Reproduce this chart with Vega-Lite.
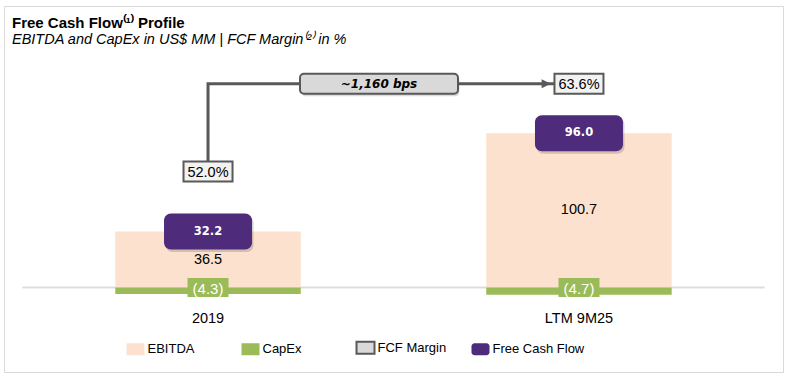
{
  "$schema": "https://vega.github.io/schema/vega-lite/v6.json",
  "width": 779,
  "height": 366,
  "autosize": "none",
  "padding": {"left": 4, "top": 6, "right": 8, "bottom": 5},
  "background": "#ffffff",
  "title": {
    "text": "Free Cash Flow⁽¹⁾ Profile",
    "subtitle": "EBITDA and CapEx in US$ MM | FCF Margin⁽²⁾ in %",
    "anchor": "start",
    "frame": "group",
    "offset": -40,
    "dx": 8,
    "font": "Liberation Sans",
    "fontSize": 15,
    "fontWeight": "bold",
    "color": "#000000",
    "subtitleFont": "Liberation Sans",
    "subtitleFontSize": 14.5,
    "subtitleFontStyle": "italic",
    "subtitleColor": "#000000",
    "subtitlePadding": 1.5
  },
  "datasets": {
    "periods": [
      {"period": "2019", "ebitda": 36.5, "capex": -4.3, "fcf": 32.2, "margin": 0.52},
      {"period": "LTM 9M25", "ebitda": 100.7, "capex": -4.7, "fcf": 96.0, "margin": 0.636}
    ],
    "connector": [
      {"period": "2019", "margin": 0.52, "step": 1},
      {"period": "2019", "margin": 0.636, "step": 2},
      {"period": "LTM 9M25", "margin": 0.636, "step": 3}
    ],
    "change": [
      {"period": "2019", "label": "~1,160 bps", "margin": 0.636}
    ]
  },
  "data": {"name": "periods"},
  "resolve": {"scale": {"y": "independent"}},
  "layer": [
    {
      "mark": {"type": "rule", "color": "#DCDCDC", "strokeWidth": 1.5},
      "encoding": {
        "x": {"datum": "2019", "type": "nominal", "bandPosition": -0.5, "axis": null, "scale": {"paddingInner": 0.5, "paddingOuter": 0.3}},
        "x2": {"datum": "LTM 9M25", "bandPosition": 1.5},
        "y": {"datum": 0, "type": "quantitative", "axis": null, "scale": {"domain": [-55.19, 183.87], "nice": false, "zero": false}}
      }
    },
    {
      "mark": {"type": "bar"},
      "encoding": {
        "x": {"field": "period", "type": "nominal", "sort": null, "axis": null, "scale": {"paddingInner": 0.5, "paddingOuter": 0.3}},
        "y": {"field": "ebitda", "type": "quantitative", "axis": null, "scale": {"domain": [-55.19, 183.87], "nice": false, "zero": false}},
        "color": {"datum": "EBITDA", "type": "nominal",
          "scale": {"domain": ["EBITDA", "CapEx", "FCF Margin", "Free Cash Flow"], "range": ["#FCE2CE", "#9BBB59", "#D9D9D9", "#4F2B7B"]},
          "legend": {
            "orient": "none", "legendX": 125, "legendY": 335, "direction": "horizontal", "columns": 4, "gridAlign": "all",
            "title": null, "padding": 0,
            "symbolType": "M-9,-6H9V6H-9Z", "symbolSize": 4, "symbolOpacity": 1, "symbolStrokeWidth": 0,
            "labelFont": "Liberation Sans", "labelFontSize": 13, "labelColor": "#000000", "labelOffset": 5.5, "columnPadding": -3,
            "encode": {"symbols": {"update": {
              "shape": {"signal": "datum.label === 'Free Cash Flow' ? 'M-6,-6H6A3,3 0 0 1 9,-3V3A3,3 0 0 1 6,6H-6A3,3 0 0 1 -9,3V-3A3,3 0 0 1 -6,-6Z' : 'M-9,-6H9V6H-9Z'"},
              "stroke": {"signal": "datum.label === 'FCF Margin' ? '#595959' : null"},
              "strokeWidth": {"signal": "datum.label === 'FCF Margin' ? 2 : 0"}
            }}}
          }
        }
      }
    },
    {
      "mark": {"type": "bar", "color": "#9BBB59"},
      "encoding": {
        "x": {"field": "period", "type": "nominal", "sort": null, "axis": null},
        "y": {"field": "capex", "type": "quantitative", "axis": null, "scale": {"domain": [-55.19, 183.87], "nice": false, "zero": false}}
      }
    },
    {
      "mark": {"type": "text", "font": "Liberation Sans", "fontSize": 14.5, "color": "#000000", "baseline": "alphabetic", "dy": 35},
      "encoding": {
        "x": {"field": "period", "type": "nominal", "sort": null, "axis": null},
        "y": {"datum": 0, "type": "quantitative", "axis": null, "scale": {"domain": [-55.19, 183.87], "nice": false, "zero": false}},
        "text": {"field": "period", "type": "nominal"}
      }
    },
    {
      "mark": {"type": "text", "font": "Liberation Sans", "fontSize": 14.5, "color": "#000000", "baseline": "middle"},
      "encoding": {
        "x": {"field": "period", "type": "nominal", "sort": null, "axis": null},
        "y": {"field": "ebitda", "type": "quantitative", "axis": null, "scale": {"domain": [-110.38, 367.74], "nice": false, "zero": false}},
        "text": {"field": "ebitda", "type": "quantitative", "format": ".1f"}
      }
    },
    {
      "mark": {"type": "point", "shape": "M-20.5,-9.5H20.5V9.5H-20.5Z", "size": 4, "filled": true, "opacity": 1, "color": "#9BBB59"},
      "encoding": {
        "x": {"field": "period", "type": "nominal", "sort": null, "axis": null},
        "y": {"datum": 0, "type": "quantitative", "axis": null, "scale": {"domain": [-55.19, 183.87], "nice": false, "zero": false}}
      }
    },
    {
      "mark": {"type": "text", "font": "Liberation Sans", "fontSize": 15, "color": "#ffffff", "baseline": "middle", "dy": 1},
      "encoding": {
        "x": {"field": "period", "type": "nominal", "sort": null, "axis": null},
        "y": {"datum": 0, "type": "quantitative", "axis": null, "scale": {"domain": [-55.19, 183.87], "nice": false, "zero": false}},
        "text": {"field": "capex", "type": "quantitative", "format": "(.1f"}
      }
    },
    {
      "data": {"name": "connector"},
      "mark": {"type": "line", "color": "#595959", "strokeWidth": 3, "strokeJoin": "miter", "strokeCap": "butt"},
      "encoding": {
        "x": {"field": "period", "type": "nominal", "sort": null, "axis": null},
        "y": {"field": "margin", "type": "quantitative", "axis": null, "scale": {"domain": [0.2551, 0.73866], "nice": false, "zero": false}},
        "order": {"field": "step", "type": "quantitative"}
      }
    },
    {
      "transform": [{"filter": "datum.period === 'LTM 9M25'"}],
      "mark": {"type": "point", "shape": "M-4.5,-4.5L4.5,0L-4.5,4.5Z", "size": 4, "filled": true, "opacity": 1, "color": "#595959"},
      "encoding": {
        "x": {"field": "period", "type": "nominal", "sort": null, "bandPosition": 0.323, "axis": null},
        "y": {"field": "margin", "type": "quantitative", "axis": null, "scale": {"domain": [0.2551, 0.73866], "nice": false, "zero": false}}
      }
    },
    {
      "mark": {"type": "point", "shape": "M-24.5,-10H24.5V10H-24.5Z", "size": 4, "filled": true, "opacity": 1, "fill": "#F2F2F2", "stroke": "#595959", "strokeWidth": 2},
      "encoding": {
        "x": {"field": "period", "type": "nominal", "sort": null, "axis": null},
        "y": {"field": "margin", "type": "quantitative", "axis": null, "scale": {"domain": [0.2551, 0.73866], "nice": false, "zero": false}}
      }
    },
    {
      "mark": {"type": "text", "font": "Liberation Sans", "fontSize": 14.5, "color": "#000000", "baseline": "middle", "dy": 1},
      "encoding": {
        "x": {"field": "period", "type": "nominal", "sort": null, "axis": null},
        "y": {"field": "margin", "type": "quantitative", "axis": null, "scale": {"domain": [0.2551, 0.73866], "nice": false, "zero": false}},
        "text": {"field": "margin", "type": "quantitative", "format": ".1%"}
      }
    },
    {
      "mark": {"type": "point", "shape": "M-37,-18H37A7,7 0 0 1 44,-11V11A7,7 0 0 1 37,18H-37A7,7 0 0 1 -44,11V-11A7,7 0 0 1 -37,-18Z", "size": 4, "filled": true, "opacity": 0.16, "color": "#000000", "xOffset": 1.5, "yOffset": 2.5},
      "encoding": {
        "x": {"field": "period", "type": "nominal", "sort": null, "axis": null},
        "y": {"field": "ebitda", "type": "quantitative", "axis": null, "scale": {"domain": [-55.19, 183.87], "nice": false, "zero": false}}
      }
    },
    {
      "mark": {"type": "point", "shape": "M-37,-18H37A7,7 0 0 1 44,-11V11A7,7 0 0 1 37,18H-37A7,7 0 0 1 -44,11V-11A7,7 0 0 1 -37,-18Z", "size": 4, "filled": true, "opacity": 1, "color": "#4F2B7B"},
      "encoding": {
        "x": {"field": "period", "type": "nominal", "sort": null, "axis": null},
        "y": {"field": "ebitda", "type": "quantitative", "axis": null, "scale": {"domain": [-55.19, 183.87], "nice": false, "zero": false}}
      }
    },
    {
      "mark": {"type": "text", "font": "DejaVu Sans", "fontSize": 11.5, "fontWeight": "bold", "color": "#ffffff", "baseline": "middle"},
      "encoding": {
        "x": {"field": "period", "type": "nominal", "sort": null, "axis": null},
        "y": {"field": "ebitda", "type": "quantitative", "axis": null, "scale": {"domain": [-55.19, 183.87], "nice": false, "zero": false}},
        "text": {"field": "fcf", "type": "quantitative", "format": ".1f"}
      }
    },
    {
      "data": {"name": "change"},
      "mark": {"type": "point", "shape": "M-75,-10H75A4,4 0 0 1 79,-6V6A4,4 0 0 1 75,10H-75A4,4 0 0 1 -79,6V-6A4,4 0 0 1 -75,-10Z", "size": 4, "filled": true, "opacity": 0.14, "color": "#000000", "xOffset": 1.5, "yOffset": 2.5},
      "encoding": {
        "x": {"field": "period", "type": "nominal", "sort": null, "bandPosition": 1.4218, "axis": null},
        "y": {"field": "margin", "type": "quantitative", "axis": null, "scale": {"domain": [0.2551, 0.73866], "nice": false, "zero": false}}
      }
    },
    {
      "data": {"name": "change"},
      "mark": {"type": "point", "shape": "M-75,-10H75A4,4 0 0 1 79,-6V6A4,4 0 0 1 75,10H-75A4,4 0 0 1 -79,6V-6A4,4 0 0 1 -75,-10Z", "size": 4, "filled": true, "opacity": 1, "fill": "#D9D9D9", "stroke": "#595959", "strokeWidth": 2},
      "encoding": {
        "x": {"field": "period", "type": "nominal", "sort": null, "bandPosition": 1.4218, "axis": null},
        "y": {"field": "margin", "type": "quantitative", "axis": null, "scale": {"domain": [0.2551, 0.73866], "nice": false, "zero": false}}
      }
    },
    {
      "data": {"name": "change"},
      "mark": {"type": "text", "font": "DejaVu Sans", "fontSize": 12, "fontWeight": "bold", "fontStyle": "italic", "color": "#000000", "baseline": "middle"},
      "encoding": {
        "x": {"field": "period", "type": "nominal", "sort": null, "bandPosition": 1.4218, "axis": null},
        "y": {"field": "margin", "type": "quantitative", "axis": null, "scale": {"domain": [0.2551, 0.73866], "nice": false, "zero": false}},
        "text": {"field": "label", "type": "nominal"}
      }
    }
  ],
  "config": {
    "view": {"stroke": "#D9D9D9", "strokeWidth": 1},
    "font": "Liberation Sans"
  }
}
